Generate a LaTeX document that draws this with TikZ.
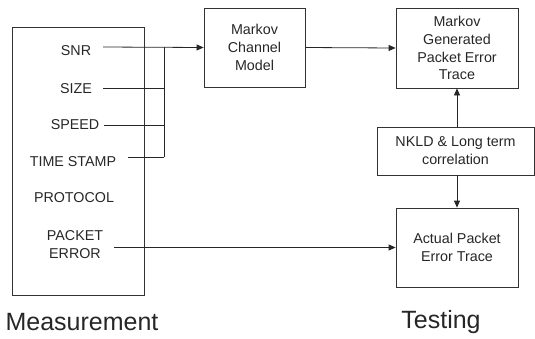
\documentclass[tikz,border=0pt]{standalone}
\usepackage{fontspec}
\setmainfont{Liberation Sans}
\usetikzlibrary{arrows.meta}
\begin{document}
\begin{tikzpicture}[x=1pt,y=-1pt,
  every node/.style={text=black!85},
  lbl/.style={font=\fontsize{14.3}{17.5}\selectfont, inner sep=0pt, align=center},
  blk/.style={draw=black!80, line width=0.8pt, font=\fontsize{14.3}{17.8}\selectfont, align=center, inner sep=0pt},
  big/.style={font=\fontsize{25}{30}\selectfont, inner sep=0pt},
  wire/.style={draw=black!85, line width=0.8pt},
  arr/.style={wire, -{Triangle[length=7pt,width=6pt]}}]
\useasboundingbox (0,0) rectangle (535,338);
% Measurement box
\node[blk, minimum width=132pt, minimum height=268pt] (meas) at (78,161) {};
\node[lbl] (snr) at (76,50.5) {SNR};
\node[lbl] (size) at (76,88.5) {SIZE};
\node[lbl] (speed) at (75,125) {SPEED};
\node[lbl] (ts) at (73,162) {TIME STAMP};
\node[lbl] (prot) at (74,198) {PROTOCOL};
\node[lbl] (pe) at (75,244.5) {PACKET\\ERROR};
% blocks
\node[blk, minimum width=101pt, minimum height=79pt] (mcm) at (254.5,47.5) {Markov\\Channel\\Model};
\node[blk, minimum width=122pt, minimum height=80pt] (gen) at (457,48) {Markov\\Generated\\Packet Error\\Trace};
\node[blk, minimum width=157pt, minimum height=48pt] (nkld) at (455.5,151) {NKLD \& Long term\\correlation};
\node[blk, minimum width=122pt, minimum height=79pt] (act) at (457,247.5) {Actual Packet\\Error Trace};
% labels
\node[big] (mtxt) at (82,322) {Measurement};
\node[big] (ttxt) at (441,322) {Testing};
% wires
\coordinate (s1) at (103,47);
\coordinate (s2) at (103,88);
\coordinate (s3) at (104,125);
\coordinate (s4) at (128,157);
\coordinate (b1) at (164,47);
\coordinate (b2) at (164,88);
\coordinate (b3) at (164,125);
\coordinate (b4) at (164,157);
\coordinate (s5) at (114,247.5);
\draw[wire] (s2) -- (b2);
\draw[wire] (s3) -- (b3);
\draw[wire] (s4) -- (b4);
\draw[wire] (b1) -- (b4);
\draw[arr] (s1) -- (mcm.west);
\draw[arr] (mcm.east) -- (gen.west);
\draw[arr] (nkld.north -| gen.south) -- (gen.south);
\draw[arr] (nkld.south -| act.north) -- (act.north);
\draw[arr] (s5) -- (act.west);
\end{tikzpicture}
\end{document}
